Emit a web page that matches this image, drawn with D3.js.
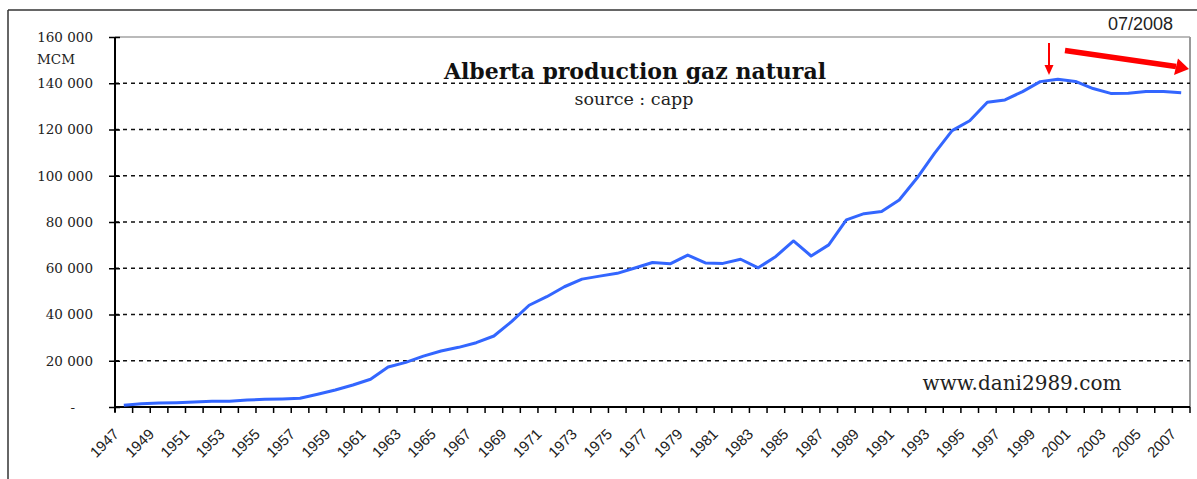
<!DOCTYPE html>
<html>
<head>
<meta charset="utf-8">
<script src="https://cdn.jsdelivr.net/npm/d3@7"></script>
<style>
  body { margin: 0; background: #fff; }
  svg { display: block; }
</style>
</head>
<body>
<div id="chart"></div>
<script>
// data (MCM per year)
var years = [1947, 1948, 1949, 1950, 1951, 1952, 1953, 1954, 1955, 1956,
    1957, 1958, 1959, 1960, 1961, 1962, 1963, 1964, 1965, 1966,
    1967, 1968, 1969, 1970, 1971, 1972, 1973, 1974, 1975, 1976,
    1977, 1978, 1979, 1980, 1981, 1982, 1983, 1984, 1985, 1986,
    1987, 1988, 1989, 1990, 1991, 1992, 1993, 1994, 1995, 1996,
    1997, 1998, 1999, 2000, 2001, 2002, 2003, 2004, 2005, 2006, 2007];
var production = [730, 1450, 1700, 1850, 2150, 2450, 2450, 3000, 3300, 3500,
    3750, 5500, 7350, 9500, 12000, 17300, 19300, 22000, 24200, 25800,
    27800, 30700, 36900, 44000, 47700, 52000, 55300, 56600, 57800, 60100,
    62500, 61900, 65700, 62300, 62100, 63900, 60200, 65100, 71800, 65300,
    70100, 80900, 83600, 84500, 89500, 98900, 109700, 119500, 123800, 131800,
    132800, 136400, 140700, 141700, 140800, 137700, 135600, 135700, 136400, 136400, 135900];
var yTicks = [0, 20000, 40000, 60000, 80000, 100000, 120000, 140000, 160000];
var xLabels = [1947, 1949, 1951, 1953, 1955, 1957, 1959, 1961, 1963, 1965,
    1967, 1969, 1971, 1973, 1975, 1977, 1979, 1981, 1983, 1985, 1987,
    1989, 1991, 1993, 1995, 1997, 1999, 2001, 2003, 2005, 2007];

var W = 1197, H = 479;
var plot = { left: 115, right: 1190, top: 37, bottom: 407 };

var svg = d3.select("#chart").append("svg")
    .attr("width", W)
    .attr("height", H);

// outer frame of the chart object
svg.append("line").attr("x1", 8).attr("x2", 8).attr("y1", 10).attr("y2", H)
    .attr("stroke", "#333").attr("stroke-width", 1.5);
svg.append("line").attr("x1", 8).attr("x2", W).attr("y1", 10).attr("y2", 10)
    .attr("stroke", "#333").attr("stroke-width", 1.5);

var x = d3.scaleBand()
    .domain(years)
    .range([plot.left, plot.right])
    .padding(0);

var y = d3.scaleLinear()
    .domain([0, 160000])
    .range([plot.bottom, plot.top]);

var fmt = function (d) {
    if (d === 0) return "-";
    return d3.format(",")(d).replace(/,/g, " ");
};

// plot area border (top and right)
svg.append("line").attr("x1", plot.left).attr("x2", plot.right)
    .attr("y1", plot.top).attr("y2", plot.top)
    .attr("stroke", "#777").attr("stroke-width", 1.2);
svg.append("line").attr("x1", plot.right).attr("x2", plot.right)
    .attr("y1", plot.top).attr("y2", plot.bottom)
    .attr("stroke", "#999").attr("stroke-width", 2);

// dashed gridlines
svg.append("g")
    .selectAll("line")
    .data(yTicks.filter(function (d) { return d > 0 && d < 160000; }))
    .enter()
    .append("line")
    .attr("x1", plot.left)
    .attr("x2", plot.right)
    .attr("y1", function (d) { return y(d); })
    .attr("y2", function (d) { return y(d); })
    .attr("stroke", "#111")
    .attr("stroke-width", 1.3)
    .attr("stroke-dasharray", "4,4");

// Y axis
var yAxis = svg.append("g")
    .attr("transform", "translate(" + plot.left + ",0)")
    .call(d3.axisLeft(y).tickValues(yTicks).tickSize(6).tickSizeOuter(0).tickFormat(fmt));
yAxis.select(".domain").attr("stroke", "#000").attr("stroke-width", 2)
    .attr("d", "M0," + plot.top + "V" + (plot.bottom + 5));
yAxis.selectAll(".tick line").attr("stroke", "#000").attr("stroke-width", 1.5)
    .attr("x1", 5);
yAxis.selectAll(".tick text")
    .attr("x", function (d) { return d === 0 ? -40 : -22; })
    .style("font-family", "'DejaVu Serif', serif")
    .style("font-size", "13.5px")
    .style("fill", "#222");

svg.append("text")
    .attr("x", 37)
    .attr("y", 64)
    .style("font-family", "'DejaVu Serif', serif")
    .style("font-size", "13.5px")
    .style("fill", "#222")
    .text("MCM");

// X axis: ticks at every band boundary
var xAxis = svg.append("g");
xAxis.append("line")
    .attr("x1", plot.left).attr("x2", plot.right)
    .attr("y1", plot.bottom).attr("y2", plot.bottom)
    .attr("stroke", "#000").attr("stroke-width", 2);
xAxis.selectAll("line.xt")
    .data(years)
    .enter()
    .append("line")
    .attr("class", "xt")
    .attr("x1", function (d) { return x(d); })
    .attr("x2", function (d) { return x(d); })
    .attr("y1", plot.bottom)
    .attr("y2", plot.bottom + 6)
    .attr("stroke", "#000")
    .attr("stroke-width", 1.5);
xAxis.append("line")
    .attr("x1", plot.right).attr("x2", plot.right)
    .attr("y1", plot.bottom).attr("y2", plot.bottom + 6)
    .attr("stroke", "#000").attr("stroke-width", 1.5);

xAxis.selectAll("text.xl")
    .data(xLabels)
    .enter()
    .append("text")
    .attr("class", "xl")
    .attr("transform", function (d) {
        return "translate(" + (x(d) + x.bandwidth() / 2 - 4) + "," + (plot.bottom + 28) + ") rotate(-45)";
    })
    .attr("text-anchor", "end")
    .style("font-family", "'Liberation Sans', Arial, sans-serif")
    .style("font-size", "15px")
    .style("fill", "#222")
    .text(function (d) { return d; });

// production line
var line = d3.line()
    .x(function (d, i) { return x(years[i]) + x.bandwidth() / 2; })
    .y(function (d) { return y(d); });

svg.append("path")
    .datum(production)
    .attr("fill", "none")
    .attr("stroke", "#3366ff")
    .attr("stroke-width", 3)
    .attr("stroke-linejoin", "round")
    .attr("d", line);

// titles
svg.append("text")
    .attr("x", 635)
    .attr("y", 79)
    .attr("text-anchor", "middle")
    .style("font-family", "'DejaVu Serif', serif")
    .style("font-weight", "bold")
    .style("font-size", "22px")
    .style("fill", "#111")
    .text("Alberta production gaz natural");

svg.append("text")
    .attr("x", 634)
    .attr("y", 105)
    .attr("text-anchor", "middle")
    .style("font-family", "'DejaVu Serif', serif")
    .style("font-size", "17.5px")
    .style("fill", "#222")
    .text("source : capp");

svg.append("text")
    .attr("x", 1173)
    .attr("y", 30)
    .attr("text-anchor", "end")
    .style("font-family", "'Liberation Sans', Arial, sans-serif")
    .style("font-size", "18px")
    .style("fill", "#222")
    .text("07/2008");

svg.append("text")
    .attr("x", 1022)
    .attr("y", 390)
    .attr("text-anchor", "middle")
    .style("font-family", "'DejaVu Serif', serif")
    .style("font-size", "20px")
    .style("fill", "#222")
    .text("www.dani2989.com");

// red annotation arrows
var red = "#ff0000";
svg.append("line")
    .attr("x1", 1049).attr("y1", 43)
    .attr("x2", 1049).attr("y2", 66)
    .attr("stroke", red).attr("stroke-width", 2);
svg.append("path")
    .attr("d", "M1044.5,65 L1053.5,65 L1049,75 Z")
    .attr("fill", red);

svg.append("line")
    .attr("x1", 1065).attr("y1", 50.5)
    .attr("x2", 1176).attr("y2", 66.5)
    .attr("stroke", red).attr("stroke-width", 5.5);
svg.append("path")
    .attr("d", "M1178,58.5 L1174,75 L1189,69 Z")
    .attr("fill", red);
</script>
</body>
</html>
